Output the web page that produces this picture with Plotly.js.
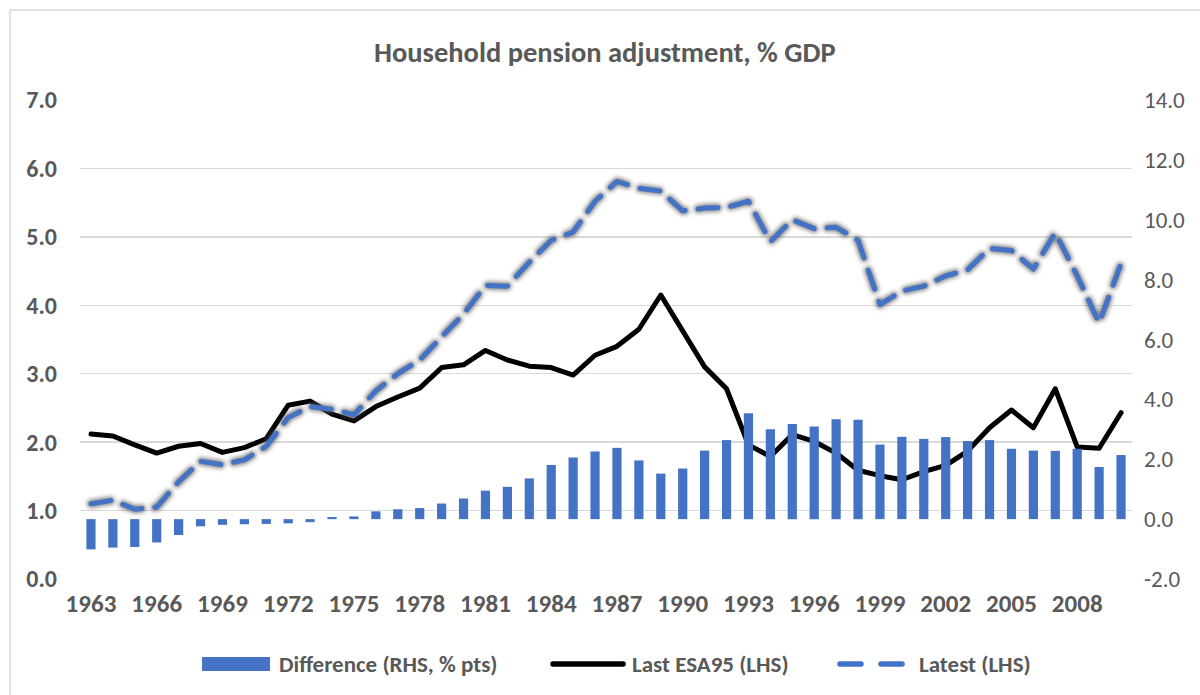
<!DOCTYPE html>
<html>
<head>
<meta charset="utf-8">
<script src="https://cdn.plot.ly/plotly-3.0.1.min.js"></script>
<style>
  html, body { margin: 0; padding: 0; background: #fff; }
  #chart { width: 1200px; height: 695px; }
</style>
</head>
<body>
<div id="chart"></div>
<script>
// ---- data ----
const years = [1963,1964,1965,1966,1967,1968,1969,1970,1971,1972,1973,1974,1975,1976,1977,1978,1979,1980,1981,1982,1983,1984,1985,1986,1987,1988,1989,1990,1991,1992,1993,1994,1995,1996,1997,1998,1999,2000,2001,2002,2003,2004,2005,2006,2007,2008,2009,2010];

const difference = [-1.01,-0.95,-0.93,-0.78,-0.53,-0.24,-0.19,-0.17,-0.16,-0.14,-0.10,0.07,0.09,0.26,0.33,0.37,0.52,0.69,0.95,1.08,1.36,1.81,2.06,2.26,2.38,1.96,1.52,1.69,2.29,2.64,3.54,3.00,3.18,3.09,3.34,3.32,2.49,2.75,2.68,2.74,2.61,2.64,2.35,2.29,2.28,2.35,1.74,2.14];

const lastESA95 = [2.12,2.09,1.96,1.84,1.94,1.98,1.85,1.92,2.05,2.54,2.60,2.41,2.31,2.52,2.66,2.79,3.09,3.13,3.34,3.20,3.11,3.09,2.98,3.27,3.40,3.65,4.15,3.63,3.10,2.78,1.96,1.79,2.11,2.01,1.84,1.59,1.51,1.45,1.57,1.66,1.87,2.21,2.47,2.21,2.78,1.93,1.91,2.43];

const latest = [1.10,1.15,1.02,1.05,1.42,1.72,1.67,1.74,1.94,2.36,2.52,2.48,2.40,2.75,3.00,3.20,3.54,3.87,4.29,4.28,4.63,4.95,5.07,5.52,5.81,5.71,5.67,5.38,5.42,5.43,5.52,4.93,5.25,5.12,5.14,4.95,4.01,4.21,4.28,4.43,4.52,4.83,4.80,4.53,5.06,4.43,3.74,4.61];

const rhsTickVals = [-2, 0, 2, 4, 6, 8, 10, 12, 14];
const rhsTickText = ["-2.0", "0.0", "2.0", "4.0", "6.0", "8.0", "10.0", "12.0", "14.0"];

const seriesNames = ["Difference (RHS, % pts)", "Last ESA95 (LHS)", "Latest (LHS)"];
const chartTitle = "Household pension adjustment, % GDP";

// ---- styling ----
const FONT = "Carlito, Calibri, 'Liberation Sans', Arial, sans-serif";
const GREY = "#595959";
const BLUE = "#4472C4";
const LEG_Y = -0.1775;

const traces = [
  {
    type: "bar", x: years, y: difference, name: seriesNames[0], yaxis: "y2",
    marker: { color: BLUE }, width: 0.42
  },
  {
    type: "scatter", mode: "lines", x: years, y: lastESA95, name: seriesNames[1], yaxis: "y",
    line: { color: "#000000", width: 5 }
  },
  {
    type: "scatter", mode: "lines", x: years, y: latest, name: seriesNames[2], yaxis: "y",
    line: { color: BLUE, width: 5, dash: "20px,13px" }
  }
];

// custom legend (swatches + labels placed below the plot)
const legendLabelX = [0.1873, 0.5228, 0.7956];
const legendAnnotations = seriesNames.map(function (nm, i) {
  return {
    xref: "paper", yref: "paper", x: legendLabelX[i], y: LEG_Y,
    xanchor: "left", yanchor: "middle", showarrow: false,
    text: "<b>" + nm + "</b>", font: { family: FONT, size: 23, color: GREY }
  };
});
const legendShapes = [
  { type: "rect", xref: "paper", yref: "paper", x0: 0.116, x1: 0.1806, y0: -0.1921, y1: -0.1628, fillcolor: BLUE, line: { width: 0 } },
  { type: "line", xref: "paper", yref: "paper", x0: 0.4496, x1: 0.5162, y0: LEG_Y, y1: LEG_Y, line: { color: "#000000", width: 5.5 } },
  { type: "line", xref: "paper", yref: "paper", x0: 0.7224, x1: 0.7424, y0: LEG_Y, y1: LEG_Y, line: { color: BLUE, width: 5.5 } },
  { type: "line", xref: "paper", yref: "paper", x0: 0.7614, x1: 0.7814, y0: LEG_Y, y1: LEG_Y, line: { color: BLUE, width: 5.5 } }
];

const layout = {
  width: 1200, height: 695,
  margin: { l: 80, r: 68, t: 100, b: 116 },
  paper_bgcolor: "#ffffff", plot_bgcolor: "#ffffff",
  font: { family: FONT, color: GREY },
  title: {
    text: "<b>" + chartTitle + "</b>",
    font: { family: FONT, size: 28.5, color: GREY },
    x: 0.504, xanchor: "center", y: 0.925, yanchor: "middle"
  },
  showlegend: false,
  xaxis: {
    range: [1962.5, 2010.5], tickmode: "linear", tick0: 1963, dtick: 3,
    showgrid: false, zeroline: false, showline: false, ticks: "",
    tickfont: { family: FONT, size: 25, color: GREY, weight: "bold" },
    ticklabelstandoff: 7
  },
  yaxis: {
    range: [0, 7], dtick: 1, tickformat: ".1f",
    showgrid: true, gridcolor: "#d9d9d9", gridwidth: 1.3,
    zeroline: false, showline: false, ticks: "",
    tickfont: { family: FONT, size: 24, color: GREY, weight: "bold" },
    ticklabelstandoff: 22
  },
  yaxis2: {
    range: [-2, 14], tickmode: "array", tickvals: rhsTickVals, ticktext: rhsTickText,
    overlaying: "y", side: "right",
    showgrid: false, zeroline: false, showline: false, ticks: "",
    tickfont: { family: FONT, size: 23, color: GREY },
    ticklabelstandoff: 11
  },
  bargap: 0.58,
  annotations: legendAnnotations,
  shapes: [
    { type: "line", xref: "paper", yref: "paper", x0: -0.0665, x1: -0.0665, y0: 1.188, y1: -0.26, line: { color: "#d9d9d9", width: 1.5 } },
    { type: "line", xref: "paper", yref: "paper", x0: -0.0665, x1: 1.07, y0: 1.188, y1: 1.188, line: { color: "#d9d9d9", width: 1.5 } }
  ].concat(legendShapes)
};

function addGlow(gd) {
  const NS = "http://www.w3.org/2000/svg";
  const svg = gd.querySelector("svg.main-svg");
  let defs = svg.querySelector("defs");
  if (!defs) { defs = document.createElementNS(NS, "defs"); svg.insertBefore(defs, svg.firstChild); }
  if (!svg.querySelector("#dashGlow")) {
    const f = document.createElementNS(NS, "filter");
    f.setAttribute("id", "dashGlow");
    f.setAttribute("x", "-10%"); f.setAttribute("y", "-10%");
    f.setAttribute("width", "120%"); f.setAttribute("height", "120%");
    const b = document.createElementNS(NS, "feGaussianBlur");
    b.setAttribute("stdDeviation", "2.2");
    f.appendChild(b);
    defs.appendChild(f);
  }
  const tracesEl = gd.querySelectorAll(".scatterlayer .trace");
  tracesEl.forEach(function (tr, i) {
    const p = tr.querySelector("path.js-line");
    if (!p) return;
    p.style.strokeLinecap = "round";
    p.style.strokeLinejoin = "round";
    if (i === 1) {
      const g = p.cloneNode(true);
      g.classList.remove("js-line");
      g.style.stroke = "rgba(90,90,90,0.75)";
      g.style.strokeWidth = "8px";
      g.setAttribute("filter", "url(#dashGlow)");
      p.parentNode.insertBefore(g, p);
    }
  });
  gd.querySelectorAll(".shapelayer path").forEach(function (p) {
    p.style.strokeLinecap = "round";
  });
}

Plotly.newPlot("chart", traces, layout, { displayModeBar: false, staticPlot: true }).then(addGlow);
</script>
</body>
</html>
